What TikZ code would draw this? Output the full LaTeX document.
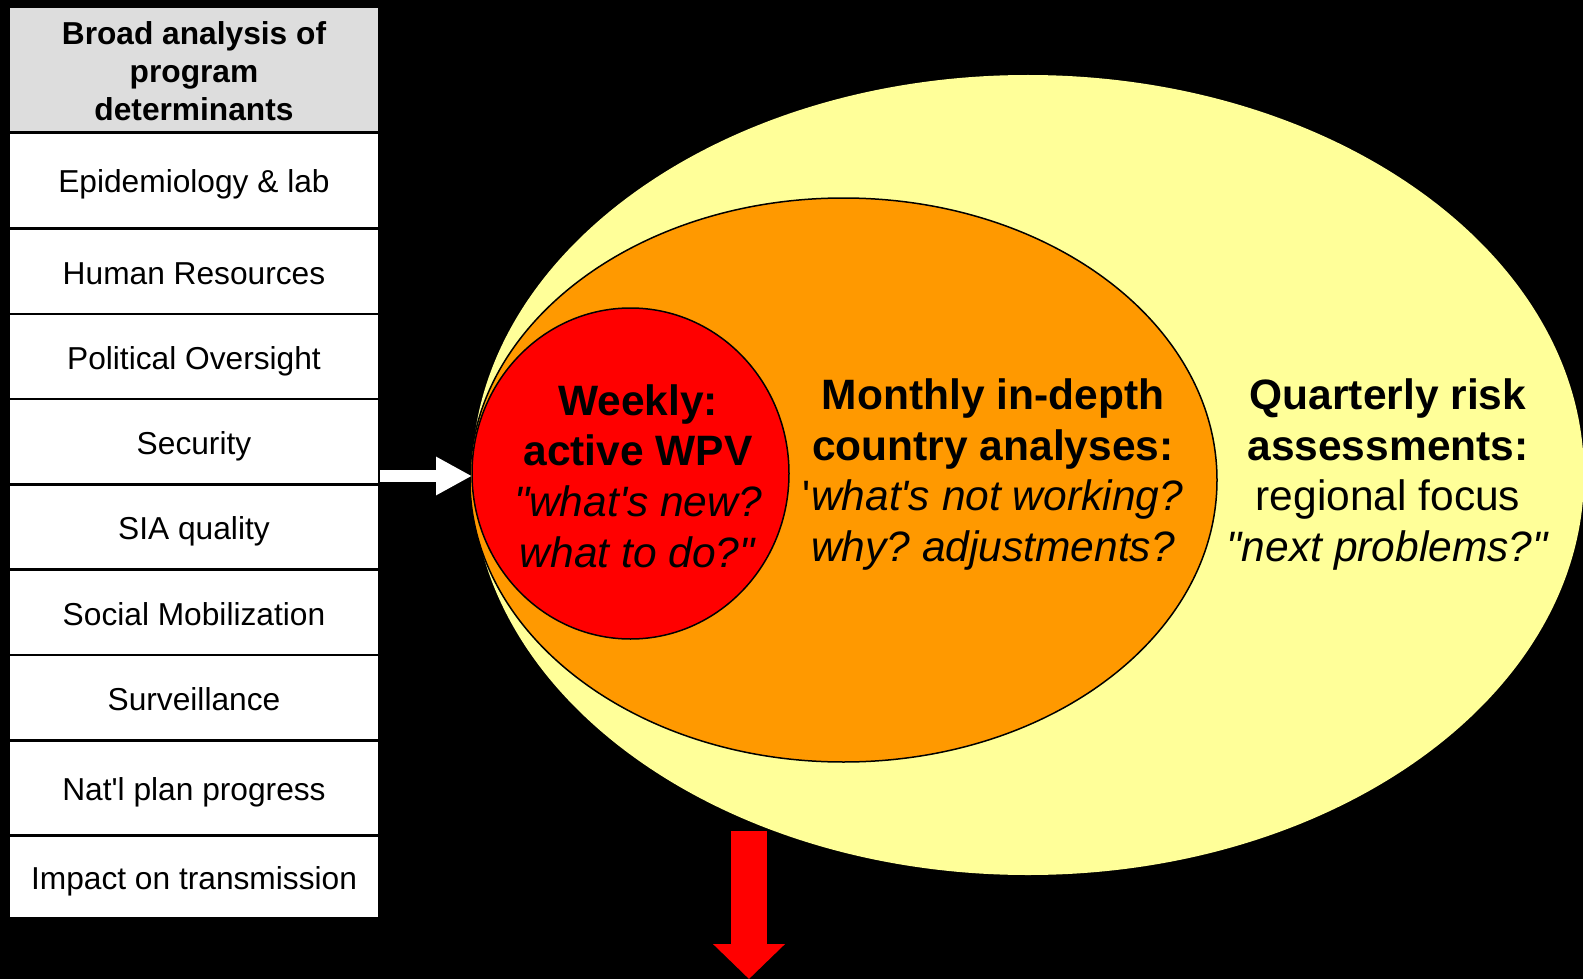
\documentclass[tikz,border=0pt]{standalone}
\usepackage{fontspec}
\setmainfont{Liberation Sans}[Ligatures=TeXOff]
\usetikzlibrary{shapes.geometric,arrows.meta}
\definecolor{qyellow}{HTML}{FFFF99}
\definecolor{morange}{HTML}{FF9900}
\definecolor{wred}{HTML}{FF0000}
\definecolor{hdrgray}{HTML}{DDDDDD}
\begin{document}
\frenchspacing
\begin{tikzpicture}[x=1pt,y=-1pt,
  cellbase/.style={minimum width=368pt, inner sep=0pt, outer sep=0pt,
    align=center},
  cell/.style={cellbase, fill=white, text height=31.7pt, text depth=6.7pt,
    font=\fontsize{31.7pt}{38pt}\selectfont},
  hdr/.style={cellbase, fill=hdrgray, font=\fontsize{31.7pt}{38pt}\selectfont\bfseries},
  ell/.style={ellipse, inner sep=0pt, outer sep=0pt},
  ringline/.style={draw=black, line width=1.5pt},
  etext/.style={align=center, inner sep=0pt, font=\fontsize{42.5pt}{50.7pt}\selectfont},
  warrow/.style={draw=white, line width=12pt, -{Triangle[length=36pt,width=36pt]}},
  rarrow/.style={draw=wred, line width=36pt, -{Triangle[length=35pt,width=70pt]}}
]
\fill[black] (0,0) rectangle (1583,979);
\useasboundingbox (0,0) rectangle (1583,979);
\clip (0,0) rectangle (1583,979);

% table
\node[hdr, minimum height=123pt] (head) at (194,69.5) {\rule{0pt}{27pt}Broad analysis of\\program\\determinants};
\node[cell, minimum height=93pt] (epi) at (194,180.5) {Epidemiology \& lab};
\node[cell, minimum height=83pt] (hr) at (194,271.5) {Human Resources};
\node[cell, minimum height=83pt] (pol) at (194,356.5) {Political Oversight};
\node[cell, minimum height=83pt] (sec) at (194,441.5) {Security};
\node[cell, minimum height=82pt] (sia) at (194,527) {SIA quality};
\node[cell, minimum height=83pt] (soc) at (194,612.5) {Social Mobilization};
\node[cell, minimum height=83pt] (surv) at (194,697.5) {Surveillance};
\node[cell, minimum height=92pt] (nat) at (194,788) {Nat'l plan progress};
\node[cell, minimum height=80pt] (imp) at (194,877) {Impact on transmission};

% ellipses
\node[ell, fill=qyellow, minimum width=1112pt, minimum height=800pt] (quarter) at (1028,475) {};
\node[ell, ringline, fill=morange, minimum width=747pt, minimum height=564pt] (month) at (843.5,480) {};
\node[ell, ringline, fill=wred, minimum width=317pt, minimum height=331pt] (week) at (630.5,473.5) {};

% texts
\node[etext] (weektext) at (638,476) {\textbf{Weekly:}\\\textbf{active WPV}\\\textit{"what's new?}\\\textit{what to do?"}};
\node[etext] (monthtext) at (993,474.5) {\textbf{Monthly in-depth}\\\textbf{country analyses:}\\'\textit{what's not working?}\\\textit{why? adjustments?}};
\node[etext] (quartertext) at (1388,474.5) {\textbf{Quarterly risk}\\\textbf{assessments:}\\regional focus\\\textit{"next problems?"}};

% arrows
\coordinate (tabR) at (380,476);
\draw[warrow] (tabR) -- (tabR -| week.west);
\coordinate (rtop) at (749,831);
\coordinate (rtip) at (749,979);
\draw[rarrow] (rtop) -- (rtip);
\end{tikzpicture}
\end{document}
